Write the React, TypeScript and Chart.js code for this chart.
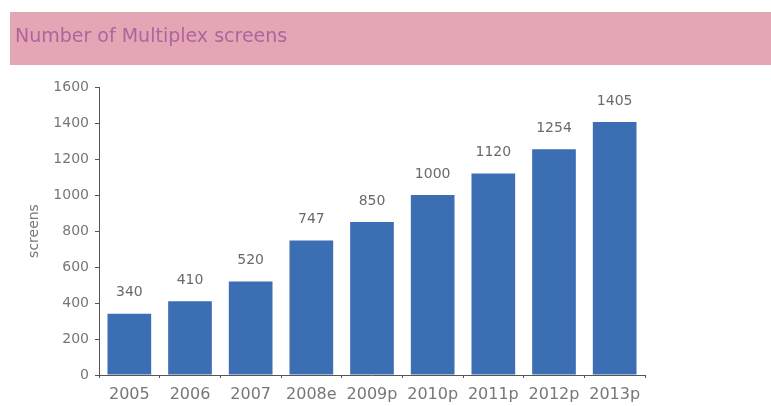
import React, { useEffect, useRef } from "react";
import { Chart, registerables } from "chart.js";

Chart.register(...registerables);

const categories = ["2005", "2006", "2007", "2008e", "2009p", "2010p", "2011p", "2012p", "2013p"];
const screens = [340, 410, 520, 747, 850, 1000, 1120, 1254, 1405];
const chartTitle = "Number of Multiplex screens";
const yAxisTitle = "screens";
const yMin = 0;
const yMax = 1600;
const yStep = 200;

const headerPlugin = {
  id: "header",
  beforeDraw(chart: any) {
    const ctx = chart.ctx;
    ctx.save();
    ctx.fillStyle = "#ffffff";
    ctx.fillRect(0, 0, chart.width, chart.height);
    ctx.fillStyle = "#e4a5b5";
    ctx.fillRect(10, 12, chart.width - 10, 53);
    ctx.fillStyle = "#b0649c";
    ctx.font = "19px 'DejaVu Sans'";
    ctx.textBaseline = "middle";
    ctx.textAlign = "left";
    ctx.fillText(chartTitle, 15, 37);
    ctx.restore();
  },
};

const valueLabelPlugin = {
  id: "valueLabels",
  afterDatasetsDraw(chart: any) {
    const ctx = chart.ctx;
    const meta = chart.getDatasetMeta(0);
    ctx.save();
    ctx.fillStyle = "#6a6a6a";
    ctx.font = "14px 'DejaVu Sans'";
    ctx.textAlign = "center";
    ctx.textBaseline = "middle";
    meta.data.forEach((bar: any, i: number) => {
      ctx.fillText(String(chart.data.datasets[0].data[i]), bar.x, bar.y - 21);
    });
    ctx.restore();
  },
};

export default function App() {
  const ref = useRef<HTMLCanvasElement | null>(null);
  useEffect(() => {
    if (!ref.current) return;
    const chart = new Chart(ref.current, {
      type: "bar",
      data: {
        labels: categories,
        datasets: [
          {
            data: screens,
            backgroundColor: "#3b6eb2",
            borderWidth: 0,
            barPercentage: 0.72,
            categoryPercentage: 1,
          },
        ],
      },
      options: {
        responsive: false,
        animation: false,
        devicePixelRatio: 1,
        layout: { padding: { top: 87, right: 126, left: 0, bottom: 0 } },
        plugins: {
          legend: { display: false },
          title: { display: false },
          tooltip: { enabled: false },
        },
        scales: {
          y: {
            min: yMin,
            max: yMax,
            ticks: {
              stepSize: yStep,
              color: "#777777",
              font: { family: "'DejaVu Sans'", size: 14 },
              padding: 6,
              callback: (v: any) => String(v),
            },
            grid: {
              drawOnChartArea: false,
              drawTicks: true,
              tickLength: 4,
              color: "#555555",
            },
            border: { display: true, color: "#555555", width: 1 },
            title: {
              display: true,
              text: yAxisTitle,
              color: "#777777",
              font: { family: "'DejaVu Sans'", size: 14 },
              padding: { top: 26, bottom: 0 },
            },
            afterFit(scale: any) {
              scale.width = 99;
            },
          },
          x: {
            ticks: {
              color: "#777777",
              font: { family: "'DejaVu Sans'", size: 16 },
              padding: 7,
              maxRotation: 0,
              autoSkip: false,
            },
            grid: {
              drawOnChartArea: false,
              drawTicks: true,
              tickLength: 3,
              color: "#555555",
            },
            border: { display: true, color: "#555555", width: 1 },
            afterFit(scale: any) {
              scale.height = 31;
            },
          },
        },
      },
      plugins: [headerPlugin, valueLabelPlugin],
    });
    return () => chart.destroy();
  }, []);
  return (
    <div style={{ position: "fixed", left: 0, top: 0, width: 771, height: 406, background: "#fff" }}>
      <canvas ref={ref} width={771} height={406} style={{ display: "block" }} />
    </div>
  );
}
